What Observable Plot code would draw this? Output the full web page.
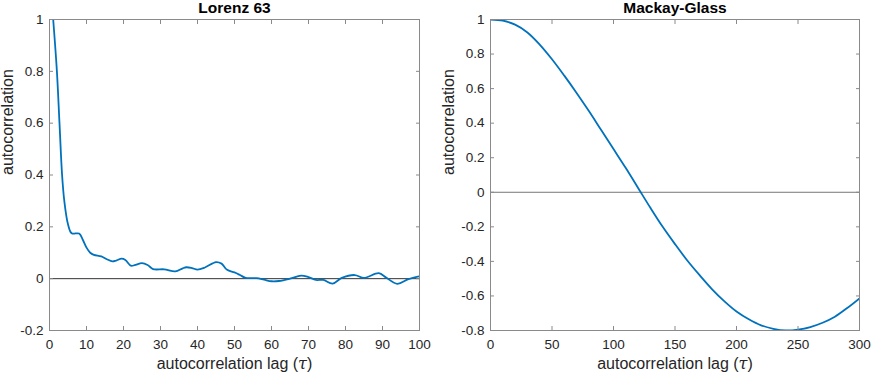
<!DOCTYPE html>
<html><head><meta charset="utf-8">
<script src="https://cdn.jsdelivr.net/npm/d3@7"></script>
<script src="https://cdn.jsdelivr.net/npm/@observablehq/plot@0.6"></script>
<style>
body{margin:0;background:#fff;}
#wrap{display:flex;width:872px;height:374px;overflow:hidden;}
</style></head><body><div id="wrap"></div>
<script>
const titles = ["Lorenz 63", "Mackay-Glass"];
const xLabel = "autocorrelation lag (τ)";
const yLabel = "autocorrelation";

const lorenzLag = [1,2,2.7,3.4,4,5,6,8,9,10,11,12,14,15.5,17,18,19.5,20.5,22,23,25,26.5,28,31,34,36,37,38.5,40,42,45,46.5,48,50,51.5,53,56,58,60,62,65,68,70,72,74,76.5,79,82.5,85,89,91,94,97,100];
const lorenzAcf = [1,0.80,0.60,0.40,0.30,0.21,0.175,0.174,0.15,0.12,0.10,0.092,0.086,0.075,0.067,0.070,0.077,0.072,0.050,0.052,0.060,0.053,0.037,0.036,0.028,0.040,0.044,0.041,0.035,0.043,0.064,0.058,0.034,0.024,0.014,0.003,0.002,-0.004,-0.010,-0.009,0.0,0.012,0.006,-0.005,-0.005,-0.019,0.003,0.014,0.003,0.021,0.004,-0.020,-0.002,0.009];

const mgLag = [0,10,20,30,40,50,60,70,80,90,100,110,120,130,140,150,160,170,180,190,200,210,220,230,240,250,260,270,280,290,300];
const mgAcf = [1.0,0.993,0.97,0.925,0.855,0.77,0.675,0.575,0.47,0.36,0.25,0.14,0.025,-0.09,-0.2,-0.3,-0.395,-0.48,-0.56,-0.63,-0.69,-0.735,-0.77,-0.79,-0.8,-0.795,-0.78,-0.755,-0.72,-0.67,-0.614];

const lorenzXTicks = [0,10,20,30,40,50,60,70,80,90,100];
const lorenzYTicks = [-0.2,0,0.2,0.4,0.6,0.8,1];
const mgXTicks = [0,50,100,150,200,250,300];
const mgYTicks = [-0.8,-0.6,-0.4,-0.2,0,0.2,0.4,0.6,0.8,1];

const fmt = d => String(+(+d).toFixed(1));
const noLabel = () => "";

function panel({title, lags, acf, xDomain, yDomain, xTicks, yTicks, marginLeft, marginRight, zeroColor, curve, yLabelDx}) {
  const data = lags.map((x, i) => ({x, y: acf[i]}));
  const svg = Plot.plot({
    width: 436, height: 374,
    marginTop: 19, marginBottom: 44, marginLeft, marginRight,
    style: {fontFamily: "'Liberation Sans', Arial, sans-serif", fontSize: "13.5px", color: "#262626", background: "#fff", overflow: "visible"},
    x: {domain: xDomain},
    y: {domain: yDomain},
    marks: [
      Plot.ruleY([0], {stroke: zeroColor, strokeWidth: 1}),
      Plot.line(data, {x: "x", y: "y", stroke: "#0072BD", strokeWidth: 1.8, curve, clip: true}),
      Plot.frame({stroke: "#8a8a8a"}),
      Plot.axisX({anchor: "bottom", ticks: xTicks, tickSize: 0, tickPadding: 9, tickFormat: fmt, label: null, fill: "#262626"}),
      Plot.axisX({anchor: "bottom", ticks: xTicks, tickSize: -4, tickFormat: noLabel, label: null, stroke: "#8a8a8a"}),
      Plot.axisX({anchor: "top", ticks: xTicks, tickSize: -4, tickFormat: noLabel, label: null, stroke: "#8a8a8a"}),
      Plot.axisY({anchor: "left", ticks: yTicks, tickSize: 0, tickPadding: 6, tickFormat: fmt, label: null, fill: "#262626"}),
      Plot.axisY({anchor: "left", ticks: yTicks, tickSize: -4, tickFormat: noLabel, label: null, stroke: "#8a8a8a"}),
      Plot.axisY({anchor: "right", ticks: yTicks, tickSize: -4, tickFormat: noLabel, label: null, stroke: "#8a8a8a"}),
      Plot.text([title], {frameAnchor: "top", dy: -11.8, lineAnchor: "middle", fontWeight: "bold", fontSize: 15.5, fill: "#000"}),
      Plot.text([xLabel], {frameAnchor: "bottom", dy: 33.5, lineAnchor: "middle", fontSize: 16, fill: "#262626"}),
      Plot.text([yLabel], {frameAnchor: "left", dx: yLabelDx, rotate: -90, lineAnchor: "middle", fontSize: 16, fill: "#262626"})
    ]
  });
  // italic tau
  d3.select(svg).selectAll("text").each(function() {
    if (this.textContent === xLabel) {
      const t = d3.select(this);
      t.text(null);
      t.append("tspan").text("autocorrelation lag (");
      t.append("tspan").attr("font-style", "italic").attr("font-family", "'DejaVu Serif', serif").text("τ");
      t.append("tspan").text(")");
    }
  });
  return svg;
}

const wrap = document.getElementById("wrap");
wrap.appendChild(panel({
  title: titles[0], lags: lorenzLag, acf: lorenzAcf,
  xDomain: [0, 100], yDomain: [-0.2, 1],
  xTicks: lorenzXTicks, yTicks: lorenzYTicks,
  marginLeft: 49, marginRight: 17, zeroColor: "#333", curve: "catmull-rom", yLabelDx: -42
}));
wrap.appendChild(panel({
  title: titles[1], lags: mgLag, acf: mgAcf,
  xDomain: [0, 300], yDomain: [-0.8, 1],
  xTicks: mgXTicks, yTicks: mgYTicks,
  marginLeft: 54, marginRight: 13, zeroColor: "#777", curve: "catmull-rom", yLabelDx: -41.5
}));
</script></body></html>
